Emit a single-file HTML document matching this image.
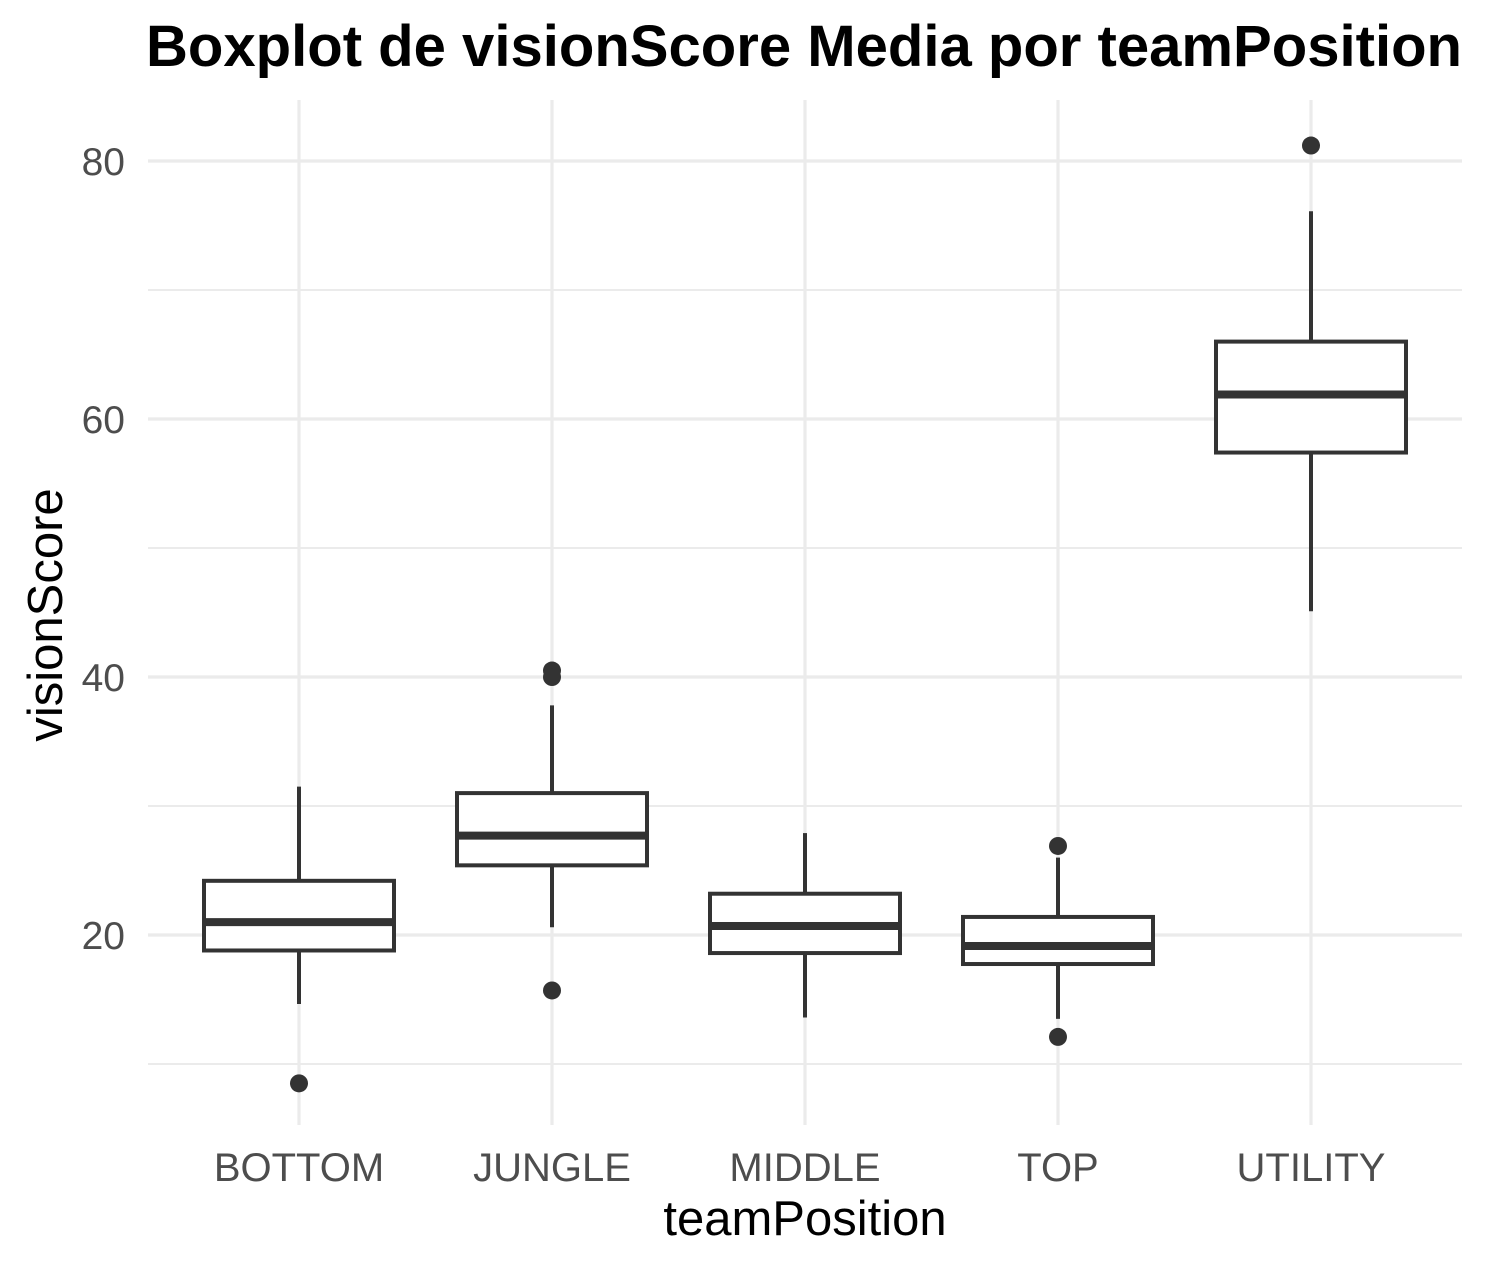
<!DOCTYPE html>
<html><head><meta charset="utf-8"><style>body{margin:0;background:#fff}svg{display:block}text{font-family:"Liberation Sans",Arial,sans-serif}</style></head>
<body>
<svg id="chart" width="1486" height="1269" viewBox="0 0 1486 1269" xmlns="http://www.w3.org/2000/svg">
<rect width="1486" height="1269" fill="#fff"/>
<text x="146" y="66" font-size="58" font-weight="bold" fill="#000" textLength="1316" lengthAdjust="spacingAndGlyphs">Boxplot de visionScore Media por teamPosition</text>
<g id="grid"></g>
<g id="marks"></g>
<g id="labels"></g>
<text x="805" y="1235" font-size="49" text-anchor="middle" fill="#000">teamPosition</text>
<text transform="translate(62,615) rotate(-90)" font-size="49" text-anchor="middle" fill="#000">visionScore</text>
</svg>
<script>
const categories=["BOTTOM","JUNGLE","MIDDLE","TOP","UTILITY"];
const whiskerLow=[14.65,20.6,13.6,13.5,45.1];
const q1=[18.8,25.4,18.6,17.75,57.4];
const median=[21.0,27.7,20.7,19.15,61.9];
const q3=[24.2,31.0,23.2,21.4,66.0];
const whiskerHigh=[31.5,37.8,27.9,26.0,76.1];
const outliers=[[8.5],[40.5,40.0,15.7],[],[26.9,12.1],[81.2]];
const majorTicks=[20,40,60,80];
const minorTicks=[10,30,50,70];
const NS="http://www.w3.org/2000/svg";
const y=v=>935-(v-20)*12.9;
const x=i=>299+i*253;
const L=148,R=1462,T=100,B=1125,bw=95;
function mk(tag,attrs,parent){const e=document.createElementNS(NS,tag);for(const k in attrs)e.setAttribute(k,attrs[k]);document.getElementById(parent).appendChild(e);return e;}
minorTicks.forEach(v=>{const e=mk("line",{x1:L,x2:R,y1:y(v),y2:y(v),stroke:"#ebebeb","stroke-width":2},"grid");

});
majorTicks.forEach(v=>{const e=mk("line",{x1:L,x2:R,y1:y(v),y2:y(v),stroke:"#ebebeb","stroke-width":3.2},"grid");


const t=mk("text",{x:125,y:y(v)+14,"font-size":39,"text-anchor":"end",fill:"#4d4d4d"},"labels");t.textContent=v;

});
categories.forEach((c,i)=>{const g=mk("line",{x1:x(i),x2:x(i),y1:T,y2:B,stroke:"#ebebeb","stroke-width":3.2},"grid");


const t=mk("text",{x:x(i),y:1181,"font-size":40,"text-anchor":"middle",fill:"#4d4d4d"},"labels");t.textContent=c;


const w1=mk("line",{x1:x(i),x2:x(i),y1:y(whiskerHigh[i]),y2:y(q3[i]),stroke:"#333","stroke-width":4},"marks");


const w2=mk("line",{x1:x(i),x2:x(i),y1:y(q1[i]),y2:y(whiskerLow[i]),stroke:"#333","stroke-width":4},"marks");


const b=mk("rect",{x:x(i)-bw,y:y(q3[i]),width:2*bw,height:y(q1[i])-y(q3[i]),fill:"#fff",stroke:"#333","stroke-width":4},"marks");


const m=mk("line",{x1:x(i)-bw,x2:x(i)+bw,y1:y(median[i]),y2:y(median[i]),stroke:"#333","stroke-width":8},"marks");


outliers[i].forEach(v=>{const o=mk("circle",{cx:x(i),cy:y(v),r:9,fill:"#333"},"marks");

});
});
</script>
</body></html>
